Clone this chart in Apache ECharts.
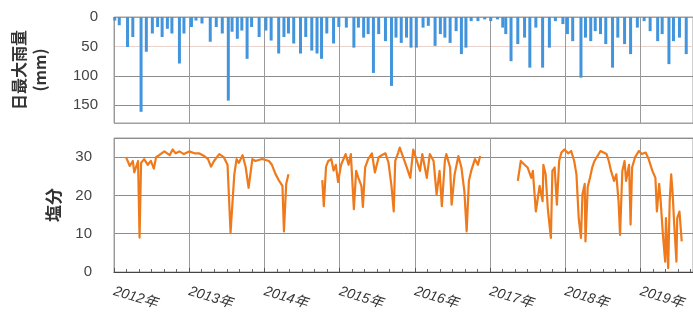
<!DOCTYPE html>
<html>
<head>
<meta charset="utf-8">
<script src="https://cdn.jsdelivr.net/npm/echarts@6/dist/echarts.min.js"></script>
<style>
  html, body { margin: 0; padding: 0; background: #fff; }
  #chart { width: 693px; height: 320px; }
</style>
</head>
<body>
<div id="chart"></div>
<script>
// 日最大雨量 (mm) — 観測時期 (年, 小数)
const rainYear = [
  2012.01, 2012.07, 2012.18, 2012.25, 2012.36, 2012.43, 2012.51, 2012.58, 2012.64, 2012.71, 2012.77, 2012.87, 2012.93,
  2013.03, 2013.09, 2013.17, 2013.28, 2013.36, 2013.44, 2013.52, 2013.57, 2013.64, 2013.70, 2013.77, 2013.83, 2013.93,
  2014.02, 2014.09, 2014.19, 2014.26, 2014.32, 2014.39, 2014.48, 2014.55, 2014.63, 2014.70, 2014.76, 2014.83, 2014.92, 2014.99,
  2015.09, 2015.19, 2015.25, 2015.32, 2015.38, 2015.45, 2015.52, 2015.61, 2015.69, 2015.75, 2015.82, 2015.89, 2015.95,
  2016.02, 2016.11, 2016.18, 2016.27, 2016.34, 2016.40, 2016.47, 2016.55, 2016.62, 2016.68, 2016.75, 2016.84, 2016.93,
  2017.01, 2017.10, 2017.17, 2017.21, 2017.28, 2017.37, 2017.46, 2017.53, 2017.61, 2017.70, 2017.79, 2017.87, 2017.97,
  2018.03, 2018.10, 2018.21, 2018.27, 2018.34, 2018.40, 2018.47, 2018.54, 2018.63, 2018.70, 2018.79, 2018.87, 2018.96,
  2019.05, 2019.13, 2019.23, 2019.29, 2019.38, 2019.44, 2019.52, 2019.61
];
const rainMax = [
  6, 14, 51, 34, 161, 59, 28, 17, 34, 20, 28, 79, 28,
  17, 6, 11, 42, 17, 28, 142, 25, 37, 23, 71, 17, 34,
  23, 40, 62, 34, 28, 45, 62, 34, 57, 62, 71, 28, 45, 17,
  18, 52, 18, 35, 29, 95, 29, 41, 117, 35, 44, 35, 52,
  52, 18, 15, 49, 29, 35, 44, 24, 63, 52, 7, 7, 4,
  7, 4, 18, 29, 75, 46, 35, 86, 18, 86, 52, 7, 12,
  29, 41, 103, 35, 41, 24, 29, 46, 86, 35, 46, 63, 18,
  7, 24, 41, 29, 80, 41, 35, 63
];

// 塩分 — null は欠測
const saltYear = [
  2012.16, 2012.21, 2012.25, 2012.27, 2012.32, 2012.34, 2012.36, 2012.40, 2012.45, 2012.49, 2012.53, 2012.56, 2012.60,
  2012.67, 2012.74, 2012.78, 2012.82, 2012.87, 2012.93, 2013.00, 2013.07, 2013.13, 2013.20, 2013.25, 2013.29, 2013.33,
  2013.40, 2013.46, 2013.51, 2013.55, 2013.60, 2013.63, 2013.66, 2013.71, 2013.75, 2013.79, 2013.84, 2013.88, 2013.97,
  2014.06, 2014.10, 2014.15, 2014.19, 2014.24, 2014.26, 2014.29, 2014.32,
  2014.55,
  2014.77, 2014.79, 2014.82, 2014.85, 2014.89, 2014.92, 2014.95, 2014.98, 2015.02, 2015.08, 2015.12, 2015.15, 2015.19,
  2015.22, 2015.25, 2015.29, 2015.31, 2015.34, 2015.38, 2015.43, 2015.47, 2015.52, 2015.56, 2015.61, 2015.65, 2015.69,
  2015.72, 2015.74, 2015.78, 2015.80, 2015.89, 2015.94, 2015.98, 2016.02, 2016.07, 2016.10, 2016.16, 2016.20, 2016.25,
  2016.29, 2016.33, 2016.36, 2016.40, 2016.42, 2016.47, 2016.49, 2016.53, 2016.58, 2016.62, 2016.66, 2016.69, 2016.72,
  2016.75, 2016.80, 2016.84, 2016.87,
  2017.10,
  2017.37, 2017.41, 2017.46, 2017.50, 2017.55, 2017.57, 2017.61, 2017.66, 2017.70, 2017.71, 2017.74, 2017.77, 2017.81,
  2017.83, 2017.86, 2017.89, 2017.92, 2017.95, 2017.99, 2018.04, 2018.08, 2018.12, 2018.15, 2018.18, 2018.21, 2018.23,
  2018.26, 2018.27, 2018.30, 2018.33, 2018.36, 2018.39, 2018.43, 2018.47, 2018.51, 2018.55, 2018.58, 2018.61, 2018.65,
  2018.68, 2018.71, 2018.73, 2018.76, 2018.79, 2018.81, 2018.85, 2018.87, 2018.89, 2018.93, 2018.98, 2019.02, 2019.07,
  2019.11, 2019.16, 2019.20, 2019.22, 2019.25, 2019.27, 2019.30, 2019.33, 2019.34, 2019.37, 2019.39, 2019.41, 2019.43,
  2019.45, 2019.48, 2019.49, 2019.52, 2019.55
];
const saltValue = [
  30, 27.7, 29, 26, 29, 9, 28.5, 29.5, 28, 29, 27, 30, 30.5,
  31.5, 30.5, 32, 31, 31.5, 30.8, 31.5, 31, 31, 30.3, 29.5, 27.5, 29,
  30.8, 30, 28, 10.3, 25.5, 29.5, 28.5, 30.5, 27.5, 22, 29.5, 29, 29.5,
  29, 28, 25.5, 24, 22.5, 10.6, 23, 25.5,
  null,
  24, 17.2, 27.5, 29, 29.5, 26.5, 28, 23.5, 28, 30.8, 28, 30.8, 16.4,
  26.4, 24.6, 22.5, 17, 27.3, 29.5, 31, 26, 30, 30.5, 31, 28.6, 22.5,
  15.8, 29, 31.2, 32.5, 27.5, 24.6, 32, 29.5, 26.4, 30.8, 24.6, 30.8, 29,
  20.3, 26.4, 17.2, 29, 30.8, 27.3, 17.6, 25.5, 30.3, 27.3, 21, 10.6, 23.8,
  26.4, 29.5, 28, 30.3,
  null,
  23.8, 29, 28, 27.3, 24.6, 26.4, 15.8, 22.5, 18.5, 28, 25.5, 16.4, 8.9,
  26.4, 27.3, 17.6, 29, 31.2, 32, 31, 31.6, 29, 25.5, 14.1, 8.9, 20.3,
  23, 8, 22.2, 24.6, 27.3, 29, 30.3, 31.6, 31.2, 30.8, 29, 26.4, 23.8,
  25.5, 18.5, 9.7, 26.4, 29, 23.8, 28, 12.4, 27.3, 30, 31.6, 30.8, 31.2,
  29.5, 26.4, 24.6, 15.8, 23, 18.5, 9.7, 2.7, 14.1, 1, 18.5, 25.5, 20.3,
  12.4, 2.7, 14.1, 15.8, 8
];

const X_MIN = 2012;
const X_MAX = 2019.7;
const fontLatin = 'Liberation Sans, Arial, Noto Sans CJK JP, sans-serif';
const fontJp = 'Noto Sans CJK JP, sans-serif';

const chart = echarts.init(document.getElementById('chart'), null, { renderer: 'canvas' });

const yearSplit = { show: true, lineStyle: { color: '#9a9a9a', width: 1 } };

chart.setOption({
  animation: false,
  backgroundColor: '#fff',
  grid: [
    { left: 114, top: 17, height: 106, right: -2, show: true, borderColor: '#a0a0a0', borderWidth: 1 },
    { left: 114, top: 138, bottom: 48, right: -2, show: true, borderColor: '#a0a0a0', borderWidth: 1 },
  ],
  xAxis: [
    {
      gridIndex: 0,
      type: 'value',
      min: X_MIN,
      max: X_MAX,
      interval: 1,
      axisLine: { show: false },
      axisTick: { show: false },
      axisLabel: { show: false },
      splitLine: yearSplit,
    },
    {
      gridIndex: 1,
      type: 'value',
      min: X_MIN,
      max: X_MAX,
      interval: 1,
      axisLine: { show: true, onZero: false, lineStyle: { color: '#444', width: 1 } },
      axisTick: { show: true, inside: true, length: 4, lineStyle: { color: '#555' } },
      minorTick: { show: true, splitNumber: 6, length: 3, lineStyle: { color: '#666' } },
      axisLabel: {
        rotate: -17,
        margin: 19,
        color: '#333',
        fontSize: 14,
        fontStyle: 'italic',
        fontFamily: fontLatin,
        showMaxLabel: false,
        formatter: (v) => v + '年',
      },
      splitLine: yearSplit,
    },
  ],
  yAxis: [
    {
      gridIndex: 0,
      type: 'value',
      inverse: true,
      min: 0,
      max: 180,
      interval: 50,
      name: '日最大雨量\n(mm)',
      nameLocation: 'middle',
      nameRotate: 90,
      nameGap: 64,
      nameTextStyle: { fontFamily: fontJp, fontSize: 16, fontWeight: 'bold', color: '#333', lineHeight: 21 },
      axisLine: { show: false },
      axisTick: { show: false },
      axisLabel: { margin: 16, color: '#444', fontSize: 15, fontFamily: fontLatin, showMaxLabel: false },
      splitLine: { show: true, lineStyle: { color: ['#a0a0a0', '#ead3cc', '#8c8c8c', '#8c8c8c', '#a0a0a0'], width: 1 } },
    },
    {
      gridIndex: 1,
      type: 'value',
      min: 0,
      max: 35,
      interval: 10,
      name: '塩分',
      nameLocation: 'middle',
      nameRotate: 90,
      nameGap: 52,
      nameTextStyle: { fontFamily: fontJp, fontSize: 17, fontWeight: 'bold', color: '#333' },
      axisLine: { show: false },
      axisTick: { show: false },
      axisLabel: { margin: 22, color: '#444', fontSize: 15, fontFamily: fontLatin, showMaxLabel: false },
      splitLine: { show: true, lineStyle: { color: '#8c8c8c', width: 1 } },
    },
  ],
  series: [
    {
      type: 'bar',
      xAxisIndex: 0,
      yAxisIndex: 0,
      barWidth: 3,
      itemStyle: { color: '#4294dc' },
      data: rainYear.map((t, i) => [t, rainMax[i]]),
    },
    {
      type: 'line',
      xAxisIndex: 1,
      yAxisIndex: 1,
      showSymbol: false,
      connectNulls: false,
      lineStyle: { color: '#ef7a1c', width: 2.2, join: 'round' },
      data: saltYear.map((t, i) => [t, saltValue[i]]),
    },
  ],
});
</script>
</body>
</html>
